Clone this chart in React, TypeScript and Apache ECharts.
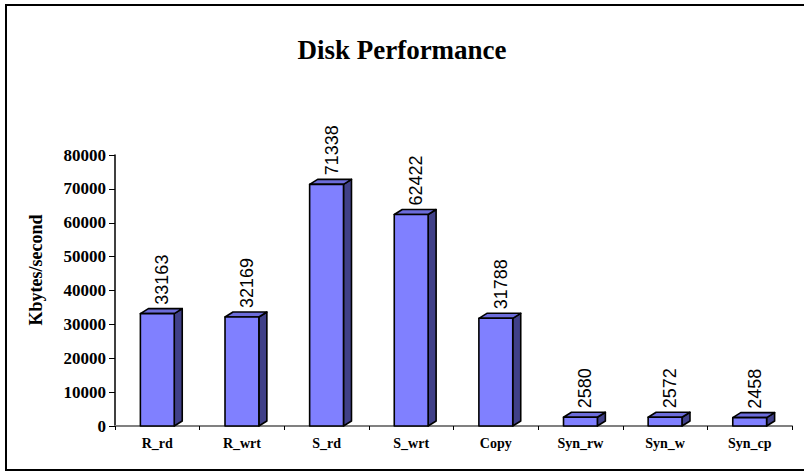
import React, { useEffect, useRef } from "react";
import * as echarts from "echarts";

const categories = ["R_rd", "R_wrt", "S_rd", "S_wrt", "Copy", "Syn_rw", "Syn_w", "Syn_cp"];
const values = [33163, 32169, 71338, 62422, 31788, 2580, 2572, 2458];
const yTicks = { min: 0, max: 80000, interval: 10000 };
const titleText = "Disk Performance";
const yAxisName = "Kbytes/second";

const FRONT = "#8080FF";
const TOP = "#6C6CDA";
const SIDE = "#404088";
const DX = 8;
const DY = 5;

export default function App() {
  const ref = useRef<HTMLDivElement>(null);
  useEffect(() => {
    if (!ref.current) return;
    const chart = echarts.init(ref.current, null, { renderer: "svg" });
    const option: any = {
      animation: false,
      backgroundColor: "#ffffff",
      title: {
        text: titleText,
        left: "center",
        top: 31,
        textStyle: { fontFamily: "Liberation Serif, Times New Roman, serif", fontWeight: "bold", fontSize: 27, color: "#000" },
      },
      graphic: [
        {
          type: "rect",
          shape: { x: 6, y: 5, width: 810, height: 465 },
          style: { fill: "none", stroke: "#000", lineWidth: 2 },
          silent: true,
        },
        {
          type: "text",
          x: 36,
          y: 270,
          rotation: Math.PI / 2,
          style: {
            text: yAxisName,
            fontFamily: "Liberation Serif, Times New Roman, serif",
            fontWeight: "bold",
            fontSize: 18,
            fill: "#000",
            textAlign: "center",
            textVerticalAlign: "middle",
          },
        },
      ],
      grid: { left: 115, right: 12, top: 155, bottom: 46, containLabel: false },
      xAxis: {
        type: "category",
        data: categories,
        boundaryGap: true,
        axisLine: { show: true, lineStyle: { color: "#808080", width: 2 } },
        axisTick: { show: true, length: 4, lineStyle: { color: "#000", width: 1 } },
        axisLabel: {
          margin: 10,
          fontFamily: "Liberation Serif, Times New Roman, serif",
          fontWeight: "bold",
          fontSize: 14,
          color: "#000",
        },
        splitLine: { show: false },
      },
      yAxis: {
        type: "value",
        min: yTicks.min,
        max: yTicks.max,
        interval: yTicks.interval,
        axisLine: { show: true, lineStyle: { color: "#000", width: 1.5 } },
        axisTick: { show: true, length: 6, lineStyle: { color: "#000", width: 1 } },
        axisLabel: {
          margin: 9,
          formatter: (v: number) => String(v),
          fontFamily: "Liberation Serif, Times New Roman, serif",
          fontWeight: "bold",
          fontSize: 17,
          color: "#000",
        },
        splitLine: { show: false },
      },
      series: [
        {
          type: "custom",
          data: values.map((v, i) => [i, v]),
          encode: { x: 0, y: 1 },
          clip: false,
          renderItem: (params: any, api: any) => {
            const idx = api.value(0);
            const val = api.value(1);
            const top = api.coord([idx, val]);
            const bottom = api.coord([idx, 0]);
            const cw = api.size([1, 0])[0];
            const w = cw * 0.4;
            const x0 = top[0] - w / 2;
            const x1 = top[0] + w / 2;
            const yT = top[1];
            const yB = bottom[1];
            const stroke = { stroke: "#000", lineWidth: 1.6, lineJoin: "round" };
            return {
              type: "group",
              children: [
                {
                  type: "polygon",
                  shape: { points: [[x1, yB], [x1 + DX, yB - DY], [x1 + DX, yT - DY], [x1, yT]] },
                  style: { fill: SIDE, ...stroke },
                },
                {
                  type: "polygon",
                  shape: { points: [[x0, yT], [x0 + DX, yT - DY], [x1 + DX, yT - DY], [x1, yT]] },
                  style: { fill: TOP, ...stroke },
                },
                {
                  type: "rect",
                  shape: { x: x0, y: yT, width: w, height: yB - yT },
                  style: { fill: FRONT, ...stroke },
                },
                {
                  type: "text",
                  x: top[0] + 5,
                  y: yT - DY - 4,
                  rotation: Math.PI / 2,
                  style: {
                    text: String(val),
                    fontFamily: "Liberation Sans, Arial, sans-serif",
                    fontSize: 18,
                    fill: "#000",
                    textAlign: "left",
                    textVerticalAlign: "middle",
                  },
                },
              ],
            };
          },
        },
      ],
    };
    chart.setOption(option);
    return () => chart.dispose();
  }, []);
  return <div ref={ref} style={{ position: "fixed", left: 0, top: 0, width: 804, height: 472 }} />;
}
